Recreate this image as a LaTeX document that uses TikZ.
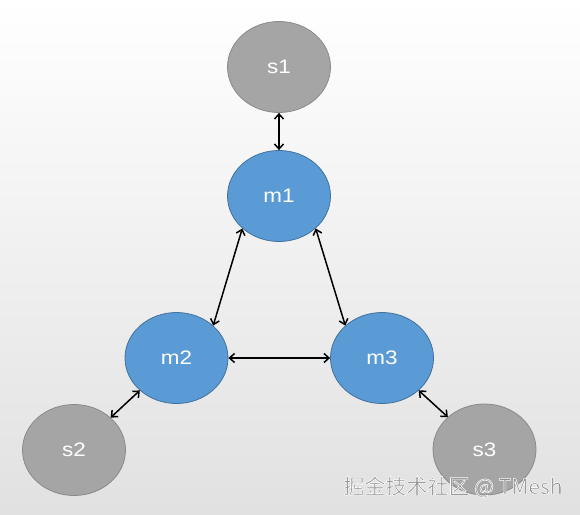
\documentclass[tikz,border=0pt]{standalone}
\usepackage{fontspec}
\setmainfont{Liberation Sans}
\newfontfamily\nodefont[FakeStretch=1.15]{Liberation Sans}
\newfontfamily\cjkmark{Noto Sans CJK SC}
\usetikzlibrary{arrows.meta,shapes.geometric}
\definecolor{bluefill}{HTML}{5B9BD5}
\definecolor{blueline}{HTML}{41719C}
\definecolor{grayfill}{HTML}{A5A5A5}
\definecolor{grayline}{HTML}{8A8A8A}
\definecolor{bgbottom}{HTML}{E1E1E1}
\definecolor{markgray}{HTML}{8E8E8E}
\newcommand{\haloon}{\special{pdf:literal direct 2 Tr 1 1 1 RG 0.55 w}}
\newcommand{\halooff}{\special{pdf:literal direct 0 Tr}}
\tikzset{
  orb/.style={ellipse, minimum width=103pt, minimum height=91pt, inner sep=0pt,
    line width=0.8pt, text=white, font=\nodefont\fontsize{19.5}{22}\selectfont},
  master/.style={orb, fill=bluefill, draw=blueline},
  slave/.style={orb, fill=grayfill, draw=grayline},
  link/.style={{Straight Barb[length=5pt,width=9pt]}-{Straight Barb[length=5pt,width=9pt]},
    line width=1.5pt, black},
  watermark/.style={text=markgray, font=\cjkmark\fontsize{21}{23}\selectfont, inner sep=0pt}
}
\begin{document}
\begin{tikzpicture}[x=1pt,y=-1pt]
\shade[top color=white, bottom color=bgbottom] (0,0) rectangle (580,514);
\useasboundingbox (0,0) rectangle (580,514);
\node[slave]  (s1) at (279,67)    {s1};
\node[master] (m1) at (279,196)   {m1};
\node[master] (m2) at (176.5,358) {m2};
\node[master] (m3) at (382,358)   {m3};
\node[slave]  (s2) at (74,450)    {s2};
\node[slave]  (s3) at (484.5,449.5) {s3};
\draw[link] (s1.south) -- (m1.north);
\draw[link] (m1.south west) -- (m2.north east);
\draw[link] (m1.south east) -- (m3.north west);
\draw[link] (m2.east) -- (m3.west);
\draw[link] (m2.south west) -- (s2.north east);
\draw[link] (m3.south east) -- (s3.north west);
\node[watermark] (wm) at (453,487) {\haloon 掘金技术社区 @ TMesh\halooff};
\end{tikzpicture}
\end{document}
